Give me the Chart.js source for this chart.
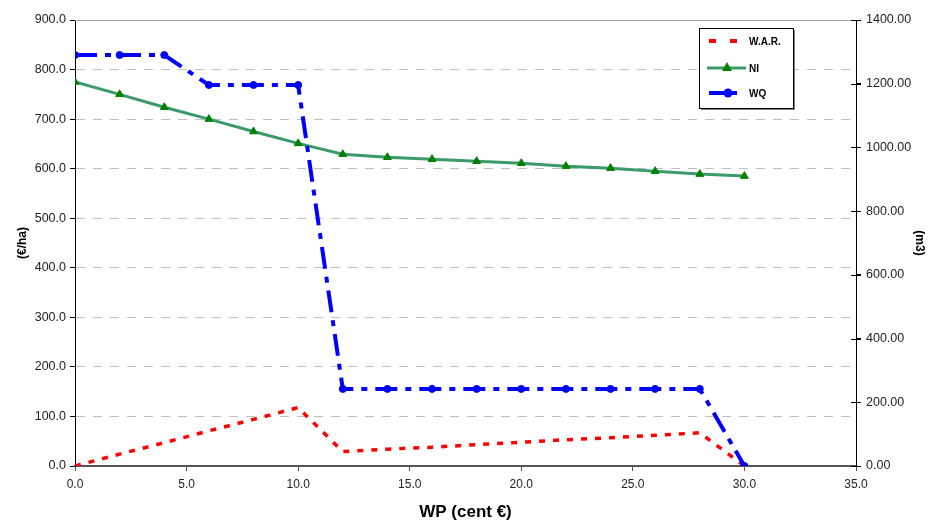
<!DOCTYPE html>
<html>
<head>
<meta charset="utf-8">
<script src="https://cdn.jsdelivr.net/npm/chart.js@4.4.1/dist/chart.umd.min.js"></script>
<style>
  html, body { margin: 0; padding: 0; background: #fff; }
  #wrap { width: 940px; height: 523px; }
</style>
</head>
<body>
<div id="wrap"><canvas id="chart" width="940" height="523"></canvas></div>
<script>
// WP values (cent €)
const wp = [0, 2, 4, 6, 8, 10, 12, 14, 16, 18, 20, 22, 24, 26, 28, 30];
// W.A.R. (€/ha, left axis)
const war = [0, 24, 47, 71, 94, 118, 29, 34, 38, 43, 48, 53, 57, 62, 67, 0];
// NI (€/ha, left axis)
const ni = [775, 750, 724, 700, 675, 651, 629, 623, 619, 615, 611, 605, 601, 595, 589, 585];
// WQ (m3, right axis)
const wq = [1290, 1290, 1290, 1196, 1196, 1196, 242, 242, 242, 242, 242, 242, 242, 242, 242, 0];

const toPoints = arr => arr.map((v, i) => ({ x: wp[i], y: v }));

const legendItems = [
  { label: 'W.A.R.', kind: 'war' },
  { label: 'NI', kind: 'ni' },
  { label: 'WQ', kind: 'wq' }
];

// draws the boxed legend inside the plot, the top border and the crossing ticks on the right axis
const decorPlugin = {
  id: 'decor',
  afterDraw(chart) {
    const ctx = chart.ctx;
    const area = chart.chartArea;
    ctx.save();

    // top border of plot area
    ctx.strokeStyle = '#a0a0a0';
    ctx.lineWidth = 1;
    ctx.beginPath();
    ctx.moveTo(area.left, area.top + 0.5);
    ctx.lineTo(area.right, area.top + 0.5);
    ctx.stroke();

    // right axis ticks crossing the line
    const y2 = chart.scales.y2;
    ctx.strokeStyle = '#000';
    y2.ticks.forEach(t => {
      const py = Math.round(y2.getPixelForValue(t.value)) + 0.5;
      ctx.beginPath();
      ctx.moveTo(area.right - 5, py);
      ctx.lineTo(area.right + 5, py);
      ctx.stroke();
    });

    // legend box
    const bx = 699, by = 28, bw = 94, bh = 80;
    ctx.fillStyle = '#808080';
    ctx.fillRect(bx + 2, by + 2, bw, bh);
    ctx.fillStyle = '#fff';
    ctx.fillRect(bx, by, bw, bh);
    ctx.strokeStyle = '#000';
    ctx.lineWidth = 1;
    ctx.strokeRect(bx + 0.5, by + 0.5, bw, bh);

    ctx.font = 'bold 10px "Liberation Sans", Arial, sans-serif';
    ctx.textBaseline = 'middle';
    legendItems.forEach((item, i) => {
      const ly = [41, 68, 93][i];
      if (item.kind === 'war') {
        ctx.fillStyle = '#ff0000';
        ctx.fillRect(709, ly - 2, 7, 4);
        ctx.fillRect(730, ly - 2, 7, 4);
      } else if (item.kind === 'ni') {
        ctx.strokeStyle = '#3a9a6a';
        ctx.lineWidth = 3;
        ctx.beginPath();
        ctx.moveTo(707, ly);
        ctx.lineTo(746, ly);
        ctx.stroke();
        ctx.fillStyle = '#008000';
        ctx.beginPath();
        ctx.moveTo(727, ly - 6);
        ctx.lineTo(732, ly + 3);
        ctx.lineTo(722, ly + 3);
        ctx.closePath();
        ctx.fill();
      } else {
        ctx.strokeStyle = '#0000ff';
        ctx.lineWidth = 4;
        ctx.beginPath();
        ctx.moveTo(709, ly);
        ctx.lineTo(737, ly);
        ctx.stroke();
        ctx.fillStyle = '#0000ff';
        ctx.beginPath();
        ctx.arc(728, ly, 4.5, 0, Math.PI * 2);
        ctx.fill();
      }
      ctx.fillStyle = '#000';
      ctx.fillText(item.label, 749, ly + 1);
    });

    ctx.restore();
  }
};

const ctx = document.getElementById('chart').getContext('2d');
new Chart(ctx, {
  type: 'line',
  data: {
    datasets: [
      {
        label: 'W.A.R.',
        data: toPoints(war),
        yAxisID: 'y',
        borderColor: '#ff0000',
        borderWidth: 3.5,
        borderDash: [6, 8],
        pointRadius: 0,
        order: 3
      },
      {
        label: 'NI',
        data: toPoints(ni),
        yAxisID: 'y',
        borderColor: '#3a9a6a',
        borderWidth: 3,
        pointStyle: 'triangle',
        pointRadius: 4.5,
        pointBackgroundColor: '#008000',
        pointBorderColor: '#008000',
        pointBorderWidth: 1,
        order: 2
      },
      {
        label: 'WQ',
        data: toPoints(wq),
        yAxisID: 'y2',
        borderColor: '#0000ff',
        borderWidth: 4,
        borderDash: [22, 8, 6, 8],
        pointStyle: 'circle',
        pointRadius: 3.5,
        pointBorderWidth: 1,
        pointBackgroundColor: '#0000ff',
        pointBorderColor: '#0000ff',
        order: 1
      }
    ]
  },
  options: {
    responsive: false,
    animation: false,
    layout: { padding: { top: 20, left: 0, right: 0, bottom: 0 } },
    plugins: {
      legend: { display: false },
      tooltip: { enabled: false }
    },
    scales: {
      x: {
        type: 'linear',
        min: 0,
        max: 35,
        afterFit(scale) { scale.height = 57; },
        ticks: {
          stepSize: 5,
          color: '#222',
          font: { family: '"Liberation Sans", Arial, sans-serif', size: 12 },
          padding: 6,
          callback: v => v.toFixed(1)
        },
        grid: { drawOnChartArea: false, color: '#555', tickLength: 5 },
        border: { display: true, color: '#555', width: 2 },
        title: {
          display: true,
          text: 'WP (cent €)',
          color: '#000',
          font: { family: '"Liberation Sans", Arial, sans-serif', size: 17, weight: 'bold' },
          padding: { top: 4, bottom: 0 }
        }
      },
      y: {
        position: 'left',
        min: 0,
        max: 900,
        afterFit(scale) { scale.width = 75; },
        ticks: {
          stepSize: 100,
          color: '#222',
          font: { family: '"Liberation Sans", Arial, sans-serif', size: 12.5 },
          padding: 4,
          callback: v => v.toFixed(1)
        },
        grid: {
          color: '#c0c0c0',
          tickColor: '#000',
          tickLength: 5,
          tickBorderDash: [],
          lineWidth: 1
        },
        border: { display: true, color: '#000', width: 1, dash: [9, 8] },
        title: {
          display: true,
          text: '(€/ha)',
          color: '#000',
          font: { family: '"Liberation Sans", Arial, sans-serif', size: 12, weight: 'bold' },
          padding: { top: 15, bottom: 0 }
        }
      },
      y2: {
        position: 'right',
        min: 0,
        max: 1400,
        afterFit(scale) { scale.width = 84; },
        ticks: {
          stepSize: 200,
          color: '#222',
          font: { family: '"Liberation Sans", Arial, sans-serif', size: 12.5 },
          padding: 5,
          callback: v => v.toFixed(2)
        },
        grid: { drawOnChartArea: false, drawTicks: true, tickLength: 5, color: '#000' },
        border: { display: true, color: '#000', width: 1 },
        title: {
          display: true,
          text: '(m3)',
          color: '#000',
          font: { family: '"Liberation Sans", Arial, sans-serif', size: 12, weight: 'bold' },
          padding: { top: 13, bottom: 0 }
        }
      }
    }
  },
  plugins: [decorPlugin]
});
</script>
</body>
</html>
